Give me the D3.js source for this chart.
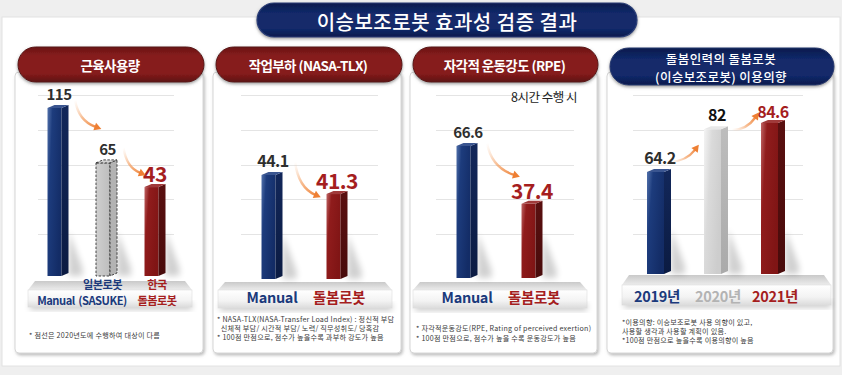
<!DOCTYPE html>
<html><head><meta charset="utf-8">
<script src="https://cdn.jsdelivr.net/npm/d3@7"></script>
<style>
html,body{margin:0;padding:0;background:#efefef;}
svg{display:block;font-family:"Noto Sans CJK KR","Noto Sans",sans-serif;}
</style></head><body>
<svg id="c" width="842" height="375"></svg>
<script>
// ---------------- DATA ----------------
const titleText = "이승보조로봇 효과성 검증 결과";
const panelTitles = [["근육사용량"], ["작업부하 (NASA-TLX)"], ["자각적 운동강도 (RPE)"], ["돌봄인력의 돌봄로봇", "(이승보조로봇) 이용의향"]];

const muscleCategories = ["Manual", "일본로봇|(SASUKE)", "한국|돌봄로봇"];
const muscleValues = [115, 65, 43];

const workloadCategories = ["Manual", "돌봄로봇"];
const workloadValues = [44.1, 41.3];

const rpeCategories = ["Manual", "돌봄로봇"];
const rpeValues = [66.6, 37.4];
const rpeSubtitle = "8시간 수행 시";

const intentCategories = ["2019년", "2020년", "2021년"];
const intentValues = [64.2, 82, 84.6];

const muscleNotes = ["* 점선은 2020년도에 수행하여 대상이 다름"];
const workloadNotes = ["* NASA-TLX(NASA-Transfer Load Index) : 정신적 부담", "  신체적 부담/ 시간적 부담/ 노력/ 직무성취도/ 당혹감", "* 100점 만점으로, 점수가 높을수록 과부하 강도가 높음"];
const rpeNotes = ["* 자각적운동강도(RPE, Rating of perceived exertion)", "* 100점 만점으로, 점수가 높을 수록 운동강도가 높음"];
const intentNotes = ["*이용의향: 이승보조로봇 사용 의향이 있고,", "사용할 생각과 사용할 계획이 있음.", "*100점 만점으로 높을수록 이용의향이 높음"];

// ---------------- STYLE ----------------
const NAVY = "#1b3a7c", RED = "#a51e1e", GRAYTXT = "#b3b3b3";
const svg = d3.select("#c");
const defs = svg.append("defs");

function grad(id, x1, y1, x2, y2, stops, units) {
  const g = defs.append("linearGradient").attr("id", id)
    .attr("x1", x1).attr("y1", y1).attr("x2", x2).attr("y2", y2);
  if (units) g.attr("gradientUnits", units);
  stops.forEach(s => g.append("stop").attr("offset", s[0]).attr("stop-color", s[1]).attr("stop-opacity", s[2] == null ? 1 : s[2]));
  return g;
}
grad("navyF", 0, 0, 1, 0.5, [[0, "#5271ab"], [0.3, "#1d3c7d"], [1, "#132c66"]]);
grad("navyS", 0, 0, 0, 1, [[0, "#12275a"], [1, "#0b1b42"]]);
grad("redF", 0, 0, 1, 0.5, [[0, "#bf6464"], [0.3, "#901c1c"], [1, "#801515"]]);
grad("redS", 0, 0, 0, 1, [[0, "#5a1010"], [1, "#480b0b"]]);
grad("grayF", 0, 0, 1, 0.5, [[0, "#f4f4f4"], [0.4, "#dadada"], [1, "#cdcdcd"]]);
grad("grayS", 0, 0, 0, 1, [[0, "#bdbdbd"], [1, "#aaaaaa"]]);
grad("dashF", 0, 0, 1, 0, [[0, "#cfcfcf"], [1, "#bdbdbd"]]);
grad("redPill", 0, 0, 0, 1, [[0, "#6a1515"], [0.25, "#861c1c"], [0.75, "#861c1c"], [1, "#5e1212"]]);
grad("navyPill", 0, 0, 0, 1, [[0, "#0a1a4c"], [0.3, "#12296a"], [0.75, "#12296a"], [1, "#0a1a4c"]]);
grad("platTop", 0, 0, 0, 1, [[0, "#c9c9c9"], [1, "#ececec"]]);
grad("platFront", 0, 0, 0, 1, [[0, "#ffffff"], [0.6, "#f3f3f3"], [1, "#dcdcdc"]]);

const sh = defs.append("filter").attr("id", "shadow").attr("x", "-10%").attr("y", "-10%").attr("width", "130%").attr("height", "130%");
sh.append("feDropShadow").attr("dx", 1.5).attr("dy", 2).attr("stdDeviation", 1.5).attr("flood-color", "#888").attr("flood-opacity", 0.55);
const sh2 = defs.append("filter").attr("id", "pillShadow").attr("x", "-10%").attr("y", "-20%").attr("width", "120%").attr("height", "150%");
sh2.append("feDropShadow").attr("dx", 0).attr("dy", 1.5).attr("stdDeviation", 1.5).attr("flood-color", "#555").attr("flood-opacity", 0.6);
const blur = defs.append("filter").attr("id", "blur").attr("x", "-50%").attr("y", "-50%").attr("width", "200%").attr("height", "200%");
blur.append("feGaussianBlur").attr("stdDeviation", 3);

// page background
svg.append("rect").attr("x", 0).attr("y", 0).attr("width", 842).attr("height", 375).attr("fill", "#efefef");
svg.append("rect").attr("x", 2).attr("y", 17).attr("width", 838).attr("height", 349).attr("fill", "#ffffff").attr("stroke", "#e2e2e2");

// title pill
svg.append("rect").attr("x", 257).attr("y", 3).attr("width", 380).attr("height", 34).attr("rx", 17)
  .attr("fill", "url(#navyPill)").attr("stroke", "#2b3f78").attr("stroke-width", 1.2).attr("filter", "url(#pillShadow)");
svg.append("text").attr("x", 447).attr("y", 21).attr("text-anchor", "middle").attr("dominant-baseline", "central")
  .attr("fill", "#fff").attr("font-size", 20).attr("font-weight", 500).attr("letter-spacing", 0.5).text(titleText);

// ---------------- PANELS ----------------
const panels = [
  { cats: muscleCategories, vals: muscleValues, notes: muscleNotes, title: panelTitles[0], pill: "redPill",
    card: [15, 203], bars: [58, 155], domain: [-38, 115], range: [276, 108], fw: 14, sw: 7,
    kinds: ["navy", "dash", "red"], hi: 2, hiSize: 21, loSize: 15,
    grid: [38, 174], plat: [28, 192, 281, 290, 307], catY: [289, 305], catSize: 11.2, catSpacing: -0.5,
    catDx: [-2, -4, 2],
    notesX: 29, notesY: [338], arrowDir: "down",
    arrows: [[17, -8, -8, -35], [17, -15, -12, -13]] },
  { cats: workloadCategories, vals: workloadValues, notes: workloadNotes, title: panelTitles[1], pill: "redPill",
    card: [213, 401], bars: [272, 337], domain: [28.8, 44.1], range: [279, 175], fw: 14, sw: 7,
    kinds: ["navy", "red"], hi: 1, hiSize: 21, loSize: 16,
    grid: [241, 378], plat: [218, 392, 282, 290, 308], catY: [null, 303], catSize: 14.5, catSpacing: -0.3,
    catDx: [0, 2],
    notesX: 217, notesY: [322, 331, 340], arrowDir: "down",
    arrows: [[23, -13, -19, 2]] },
  { cats: rpeCategories, vals: rpeValues, notes: rpeNotes, title: panelTitles[2], pill: "redPill",
    card: [410, 597], bars: [467, 532], domain: [0, 66.6], range: [278, 146], fw: 14, sw: 7,
    kinds: ["navy", "red"], hi: 1, hiSize: 21, loSize: 15,
    grid: [436, 574], plat: [413, 587, 282, 290, 308], catY: [null, 303], catSize: 14.5, catSpacing: -0.3,
    catDx: [0, 2],
    notesX: 416, notesY: [331, 341], arrowDir: "down",
    arrows: [[20, -3, -15, -28]] },
  { cats: intentCategories, vals: intentValues, notes: intentNotes, title: panelTitles[3], pill: "navyPill",
    card: [607, 833], bars: [659, 773], domain: [21.7, 84.6], range: [274, 123], fw: 17, sw: 7,
    kinds: ["navy", "gray", "red"], hi: 2, hiSize: 16, loSize: 16,
    grid: [633, 803], plat: [622, 831, 275, 285, 305], catY: [null, 302], catSize: 14.5, catSpacing: -0.3,
    catDx: [-2, 2, 2],
    notesX: 622, notesY: [325, 334, 343], arrowDir: "up",
    arrows: [[11, -10, -19, 18], [16, 1, -16, -8]] }
];

const kindFill = { navy: ["url(#navyF)", "url(#navyS)", "#3a5590"], red: ["url(#redF)", "url(#redS)", "#a03a3a"],
  gray: ["url(#grayF)", "url(#grayS)", "#e8e8e8"], dash: ["url(#dashF)", "#b3b3b3", "#d2d2d2"] };
const kindText = { navy: NAVY, red: RED, gray: GRAYTXT, dash: NAVY };

const gridScale = d3.scaleLinear().domain([0, 4]).range([95, 234]);

panels.forEach((p, pi) => {
  const g = svg.append("g");
  const [cx0, cx1] = p.card;
  // card
  g.append("rect").attr("x", cx0).attr("y", 72).attr("width", cx1 - cx0).attr("height", 281).attr("rx", 4)
    .attr("fill", "#fff").attr("stroke", "#d6d6d6").attr("filter", "url(#shadow)");
  // header pill
  const two = p.title.length > 1;
  const pillY = two ? 48 : 47, pillH = two ? 37 : 35;
  g.append("rect").attr("x", cx0 + 3).attr("y", pillY).attr("width", cx1 - cx0 - 2).attr("height", pillH)
    .attr("rx", pillH / 2).attr("fill", `url(#${p.pill})`).attr("stroke", two ? "#26396e" : "#5a1515").attr("stroke-width", 1)
    .attr("filter", "url(#pillShadow)");
  const pcx = (cx0 + cx1) / 2 + 1;
  p.title.forEach((t, i) => {
    g.append("text").attr("x", pcx).attr("y", two ? 58.5 + i * 17.5 : 65).attr("text-anchor", "middle")
      .attr("dominant-baseline", "central").attr("fill", "#fff")
      .attr("font-size", two ? 12.5 : 13.5).attr("font-weight", two ? 500 : 700)
      .attr("letter-spacing", two ? 0.4 : -0.6).text(t);
  });

  // gridlines
  g.selectAll(".grid").data(d3.range(5)).join("line")
    .attr("x1", p.grid[0]).attr("x2", p.grid[1])
    .attr("y1", d => Math.round(gridScale(d)) + 0.5).attr("y2", d => Math.round(gridScale(d)) + 0.5)
    .attr("stroke", "#e4e4e4").attr("stroke-width", 1);

  // platform
  const [px0, px1, pt, pm, pb] = p.plat;
  g.append("rect").attr("x", px0 + 2).attr("y", pb - 4).attr("width", px1 - px0 - 2).attr("height", 6)
    .attr("fill", "#000").attr("opacity", 0.25).attr("filter", "url(#blur)");
  g.append("path").attr("d", `M${px0 + 7},${pt}L${px1 - 7},${pt}L${px1},${pm}L${px0},${pm}Z`).attr("fill", "url(#platTop)");
  g.append("rect").attr("x", px0).attr("y", pm).attr("width", px1 - px0).attr("height", pb - pm)
    .attr("fill", "url(#platFront)").attr("stroke", "#dcdcdc").attr("stroke-width", 0.6);

  // scales
  const x = d3.scalePoint().domain(p.cats).range(p.bars);
  const y = d3.scaleLinear().domain(p.domain).range(p.range);
  const base = p.range[0];
  const W = p.fw + p.sw, dy = 3;

  // bars
  p.cats.forEach((c, i) => {
    const v = p.vals[i], cx = x(c), top = y(v), x0 = cx - W / 2, k = p.kinds[i];
    const [ff, sf, tf] = kindFill[k];
    g.append("path").attr("d", `M${x0 + W},${base - 45}L${x0 + W + 14},${base - 8}L${x0 + W + 14},${base}L${x0 + W},${base}Z`)
      .attr("fill", "#000").attr("opacity", 0.18).attr("filter", "url(#blur)");
    const dash = k === "dash";
    const st = dash ? "#333" : "none";
    g.append("rect").attr("x", x0).attr("y", top).attr("width", p.fw).attr("height", base - top)
      .attr("fill", ff).attr("stroke", st).attr("stroke-dasharray", dash ? "2.5,1.5" : null).attr("stroke-width", 0.9);
    g.append("path").attr("d", `M${x0 + p.fw},${top}L${x0 + W},${top - dy}L${x0 + W},${base - dy}L${x0 + p.fw},${base}Z`)
      .attr("fill", sf).attr("stroke", st).attr("stroke-dasharray", dash ? "2.5,1.5" : null).attr("stroke-width", 0.9);
    g.append("path").attr("d", `M${x0},${top}L${x0 + p.sw},${top - dy}L${x0 + W},${top - dy}L${x0 + p.fw},${top}Z`)
      .attr("fill", tf).attr("stroke", st).attr("stroke-dasharray", dash ? "2.5,1.5" : null).attr("stroke-width", 0.9);

    const hi = i === p.hi;
    g.append("text").attr("x", cx + (hi ? 0 : 1)).attr("y", top - (hi ? 5 : 8)).attr("text-anchor", "middle")
      .attr("font-size", hi ? p.hiSize : p.loSize).attr("font-weight", 700)
      .attr("letter-spacing", -0.5)
      .attr("fill", hi ? RED : (pi === 3 && i === 1 ? "#111" : "#2e2e2e")).text(String(v));

    const lines = c.split("|");
    const col = kindText[k];
    lines.forEach((ln, li) => {
      const yy = lines.length === 1 ? p.catY[1] : p.catY[li];
      g.append("text").attr("x", cx + p.catDx[i]).attr("y", yy).attr("text-anchor", "middle")
        .attr("font-size", p.catSize).attr("font-weight", 700).attr("letter-spacing", p.catSpacing)
        .attr("fill", col).text(ln);
    });
  });

  // arrows
  p.arrows.forEach((a, ai) => {
    const c0 = p.cats[ai], c1 = p.cats[ai + 1];
    const s = [x(c0) + a[0], y(p.vals[ai]) + a[1]];
    const e = [x(c1) + a[2], y(p.vals[ai + 1]) + a[3]];
    const dx = e[0] - s[0], ddy = e[1] - s[1];
    const ctrl = p.arrowDir === "down" ? [s[0] + dx * 0.15, s[1] + ddy * 0.75] : [s[0] + dx * 0.6, s[1] + ddy * 0.05];
    const id = `ag${pi}_${ai}`;
    grad(id, s[0], s[1], e[0], e[1], [[0, "#f7c39b", 0], [0.5, "#f4a266", 0.7], [1, "#ee7f33", 1]], "userSpaceOnUse");
    let ux = e[0] - ctrl[0], uy = e[1] - ctrl[1];
    const L = Math.hypot(ux, uy); ux /= L; uy /= L;
    const eb = [e[0] - ux * 3, e[1] - uy * 3];
    g.append("path").attr("d", `M${s[0]},${s[1]}Q${ctrl[0]},${ctrl[1]} ${eb[0]},${eb[1]}`)
      .attr("fill", "none").attr("stroke", `url(#${id})`).attr("stroke-width", 2.4).attr("stroke-linecap", "round");
    const tip = [e[0] + ux * 3, e[1] + uy * 3];
    const bl = [e[0] - ux * 4 - uy * 4, e[1] - uy * 4 + ux * 4];
    const br = [e[0] - ux * 4 + uy * 4, e[1] - uy * 4 - ux * 4];
    g.append("path").attr("d", `M${tip}L${bl}L${br}Z`).attr("fill", "#ee7f33");
  });

  // notes
  p.notes.forEach((t, ni) => {
    g.append("text").attr("x", p.notesX).attr("y", p.notesY[ni]).attr("font-size", 7.1).attr("letter-spacing", 0.25)
      .attr("fill", "#3a3a3a").attr("xml:space", "preserve").style("white-space", "pre").text(t);
  });
});

// RPE subtitle
svg.append("text").attr("x", 577).attr("y", 102).attr("text-anchor", "end").attr("font-size", 12.5)
  .attr("fill", "#222").attr("letter-spacing", -0.5).text(rpeSubtitle);
</script>
</body></html>
